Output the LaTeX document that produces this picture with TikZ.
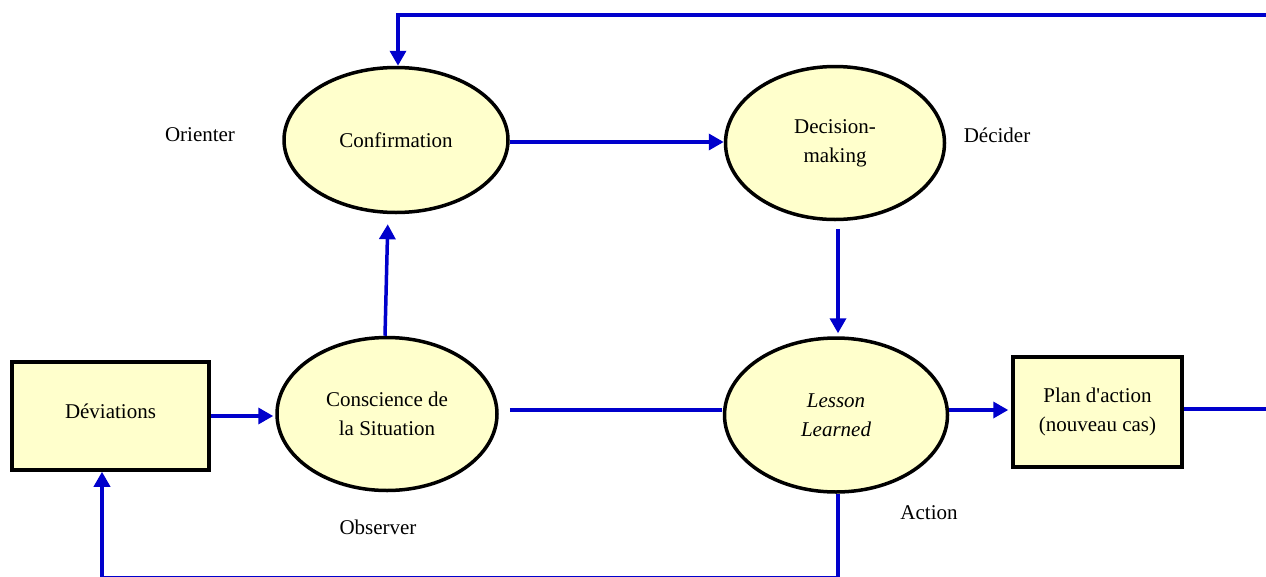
\documentclass[tikz,border=0pt]{standalone}
\usepackage{fontspec}
\setmainfont{Liberation Serif}
\usetikzlibrary{shapes.geometric,arrows.meta}
\definecolor{flowblue}{RGB}{0,0,204}
\definecolor{paleyellow}{RGB}{255,255,204}
\begin{document}
\begin{tikzpicture}[x=1pt,y=-1pt,
  every node/.style={font=\fontsize{21}{29}\selectfont, align=center},
  oval/.style={ellipse, draw=black, line width=3.5pt, fill=paleyellow, inner sep=0pt},
  box/.style={rectangle, draw=black, line width=3.5pt, fill=paleyellow, inner sep=0pt},
  flow/.style={draw=flowblue, line width=3.5pt},
  arrowflow/.style={flow, -{Triangle[length=15pt,width=16pt]}},
  tag/.style={inner sep=0pt}]
  \useasboundingbox (0,0) rectangle (1266,576);

  % process ovals
  \node[oval, minimum width=224pt, minimum height=145pt] (conf) at (396,140) {Confirmation};
  \node[oval, minimum width=219pt, minimum height=153pt] (dec) at (835,143) {Decision-\\making};
  \node[oval, minimum width=220pt, minimum height=153pt] (cons) at (387,414) {Conscience de\\la Situation};
  \node[oval, minimum width=223pt, minimum height=154pt] (less) at (836,415) {\itshape Lesson\\\itshape Learned};

  % boxes
  \node[box, minimum width=197pt, minimum height=108pt] (dev) at (110.5,416) {Déviations\\[-19pt]};
  \node[box, minimum width=169pt, minimum height=110pt] (plan) at (1097.5,412) {Plan d\textquotesingle action\\(nouveau cas)};

  % phase labels
  \node[tag] (orient) at (200,135) {Orienter};
  \node[tag] (decide) at (997,135) {Décider};
  \node[tag] (observe) at (378,527) {Observer};
  \node[tag] (act) at (929,513) {Action};

  % loop end points
  \coordinate (topright) at (1266,15);
  \coordinate (topleft) at (398,15);
  \coordinate (midright) at (1266,409);
  \coordinate (botleft) at (102,578);

  % connectors
  \draw[arrowflow] (topright) -- (topleft) -- (conf.north -| topleft);
  \draw[arrowflow] ([yshift=-2pt]conf.east) -- ([yshift=1pt]dec.west);
  \draw[arrowflow, shorten <=8pt, shorten >=3pt] ([xshift=3pt]dec.south) -- ([xshift=2pt]less.north);
  \draw[arrowflow, shorten >=10pt] ([xshift=-2pt]cons.north) -- ([xshift=-8pt]conf.south);
  \draw[flow, shorten <=11pt, shorten >=1pt] ([yshift=4pt]cons.east) -- ([yshift=5pt]less.west);
  \draw[arrowflow, shorten >=2pt] (dev.east) -- (dev.east -| cons.west);
  \draw[arrowflow, shorten >=3pt] ([yshift=5pt]less.east) -- ([yshift=5pt]less.east -| plan.west);
  \draw[flow] ([yshift=3pt]plan.east) -- (midright);
  \draw[arrowflow] ([xshift=2pt]less.south) |- (botleft) -- (botleft |- dev.south);
\end{tikzpicture}
\end{document}
